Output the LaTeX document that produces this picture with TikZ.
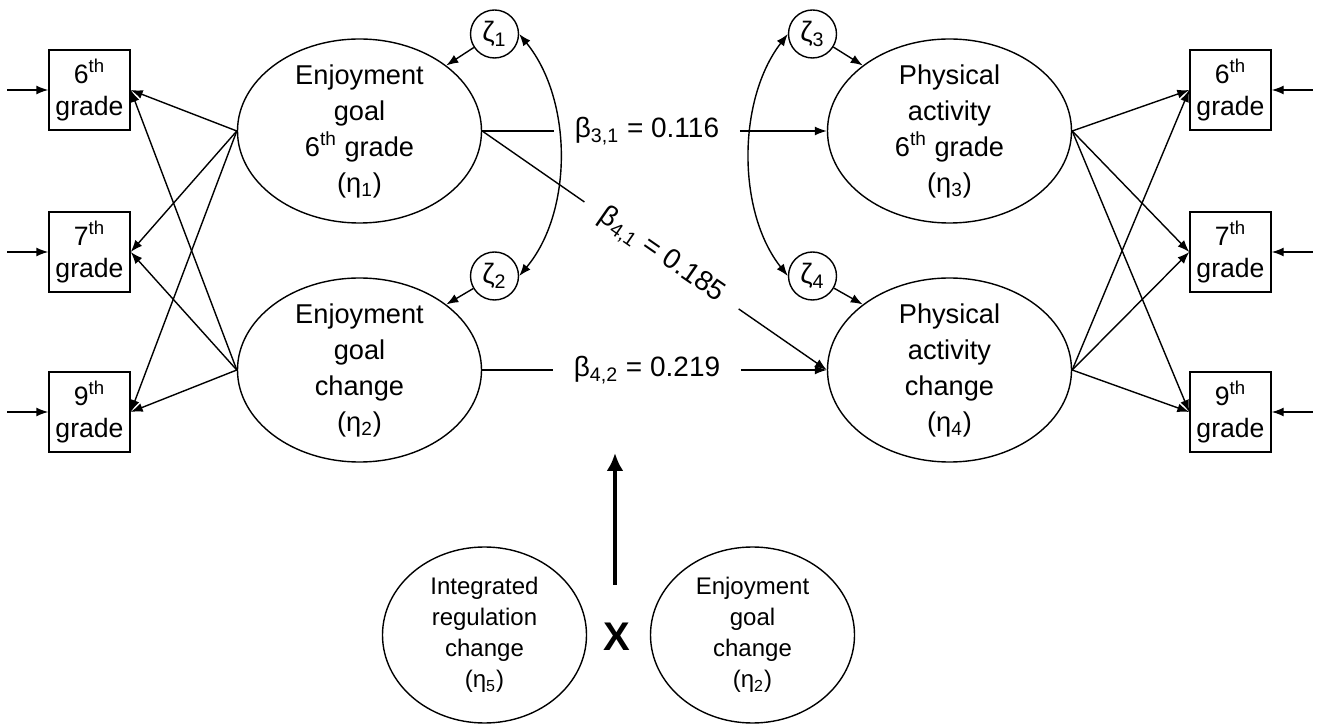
\documentclass[tikz,border=0pt]{standalone}
\usepackage{fontspec}
\setmainfont{Liberation Sans}
\usetikzlibrary{shapes,arrows.meta,positioning,calc}

\begin{document}
\begin{tikzpicture}[x=0.5pt,y=-0.5pt,line width=0.7pt,
	every node/.style={font=\fontsize{13.6}{18}\selectfont},
	latent/.style={draw,ellipse,minimum width=122pt,minimum height=92pt,inner sep=0pt},
	small latent/.style={latent,minimum width=102pt,minimum height=88pt},
	obs/.style={draw,rectangle,minimum width=40.5pt,minimum height=40pt,inner sep=0pt,align=center,font=\fontsize{13.3}{16}\selectfont},
	dist/.style={draw,circle,minimum size=24pt,inner sep=0pt,font=\fontsize{14}{14}\selectfont},
	txt/.style={align=center},
	coef/.style={inner xsep=10pt,inner ysep=2pt,font=\fontsize{14}{16}\selectfont},
	>={Latex[length=6pt,width=4.5pt]}]
	\useasboundingbox (0,0) rectangle (1322,726);
	\node[latent,label={[txt]center:{Enjoyment\\goal\\6\textsuperscript{th} grade\\(η\textsubscript{1})}}] (e1) at (359.5,131) {};
	\node[latent,label={[txt]center:{Enjoyment\\goal\\change\\(η\textsubscript{2})}}] (e2) at (359.5,370) {};
	\node[latent,label={[txt]center:{Physical\\activity\\6\textsuperscript{th} grade\\(η\textsubscript{3})}}] (e3) at (949.5,131) {};
	\node[latent,label={[txt]center:{Physical\\activity\\change\\(η\textsubscript{4})}}] (e4) at (949.5,370) {};
	\node[small latent,label={[txt,font=\fontsize{12}{15.5}\selectfont]center:{Integrated\\regulation\\change\\(η\textsubscript{5})}}] (e5) at (484.5,635) {};
	\node[small latent,label={[txt,font=\fontsize{12}{15.5}\selectfont]center:{Enjoyment\\goal\\change\\(η\textsubscript{2})}}] (e6) at (752.5,635) {};
	\foreach \n/\g/\y in {6/a/90,7/b/252,9/c/412}{
		\node[obs] (l\g) at (89.5,\y) {\n\textsuperscript{th}\\grade};
		\node[obs] (r\g) at (1230.5,\y) {\n\textsuperscript{th}\\grade};
		\draw[<-] (l\g.west) -- ++(-41,0);
		\draw[<-] (r\g.east) -- ++(41,0);
		\draw[->] (e1.west) -- (l\g.east);
		\draw[->] (e2.west) -- (l\g.east);
		\draw[->] (e3.east) -- (r\g.west);
		\draw[->] (e4.east) -- (r\g.west);
	}
	\node[dist] (z1) at (494.5,34) {ζ\textsubscript{1}};
	\node[dist] (z2) at (494.5,276) {ζ\textsubscript{2}};
	\node[dist] (z3) at (812.5,34) {ζ\textsubscript{3}};
	\node[dist] (z4) at (812.5,276) {ζ\textsubscript{4}};
	\draw[->] (z1) -- (e1.north east);
	\draw[->] (z2) -- (e2.north east);
	\draw[->] (z3) -- (e3.north west);
	\draw[->] (z4) -- (e4.north west);
	\draw[<->] (z1.east) .. controls (573,100) and (573,212) .. (z2.east);
	\draw[<->] (z3.west) .. controls (737,100) and (737,212) .. (z4.west);
	\node[coef] (b31) at (647,131) {β\textsubscript{3,1} = 0.116};
	\node[coef] (b42) at (647,370) {β\textsubscript{4,2} = 0.219};
	\node[coef,rotate=-34.7] (b41) at (661.5,255.5) {β\textsubscript{4,1} = 0.185};
	\draw (e1.east) -- (b31);
	\draw[->] (b31) -- (e3.west);
	\draw (e2.east) -- (b42);
	\draw[->] (b42) -- (e4.west);
	\draw (e1.east) -- (b41);
	\draw[->] (b41) -- (e4.west);
	\node[font=\fontsize{20}{20}\selectfont\bfseries] (xprod) at (617,637) {X};
	\coordinate (mod0) at (615,585);
	\coordinate (mod1) at (615,453);
	\draw[line width=2pt,-{Latex[length=9pt,width=8.5pt]}] (mod0) -- (mod1);
\end{tikzpicture}
\end{document}
